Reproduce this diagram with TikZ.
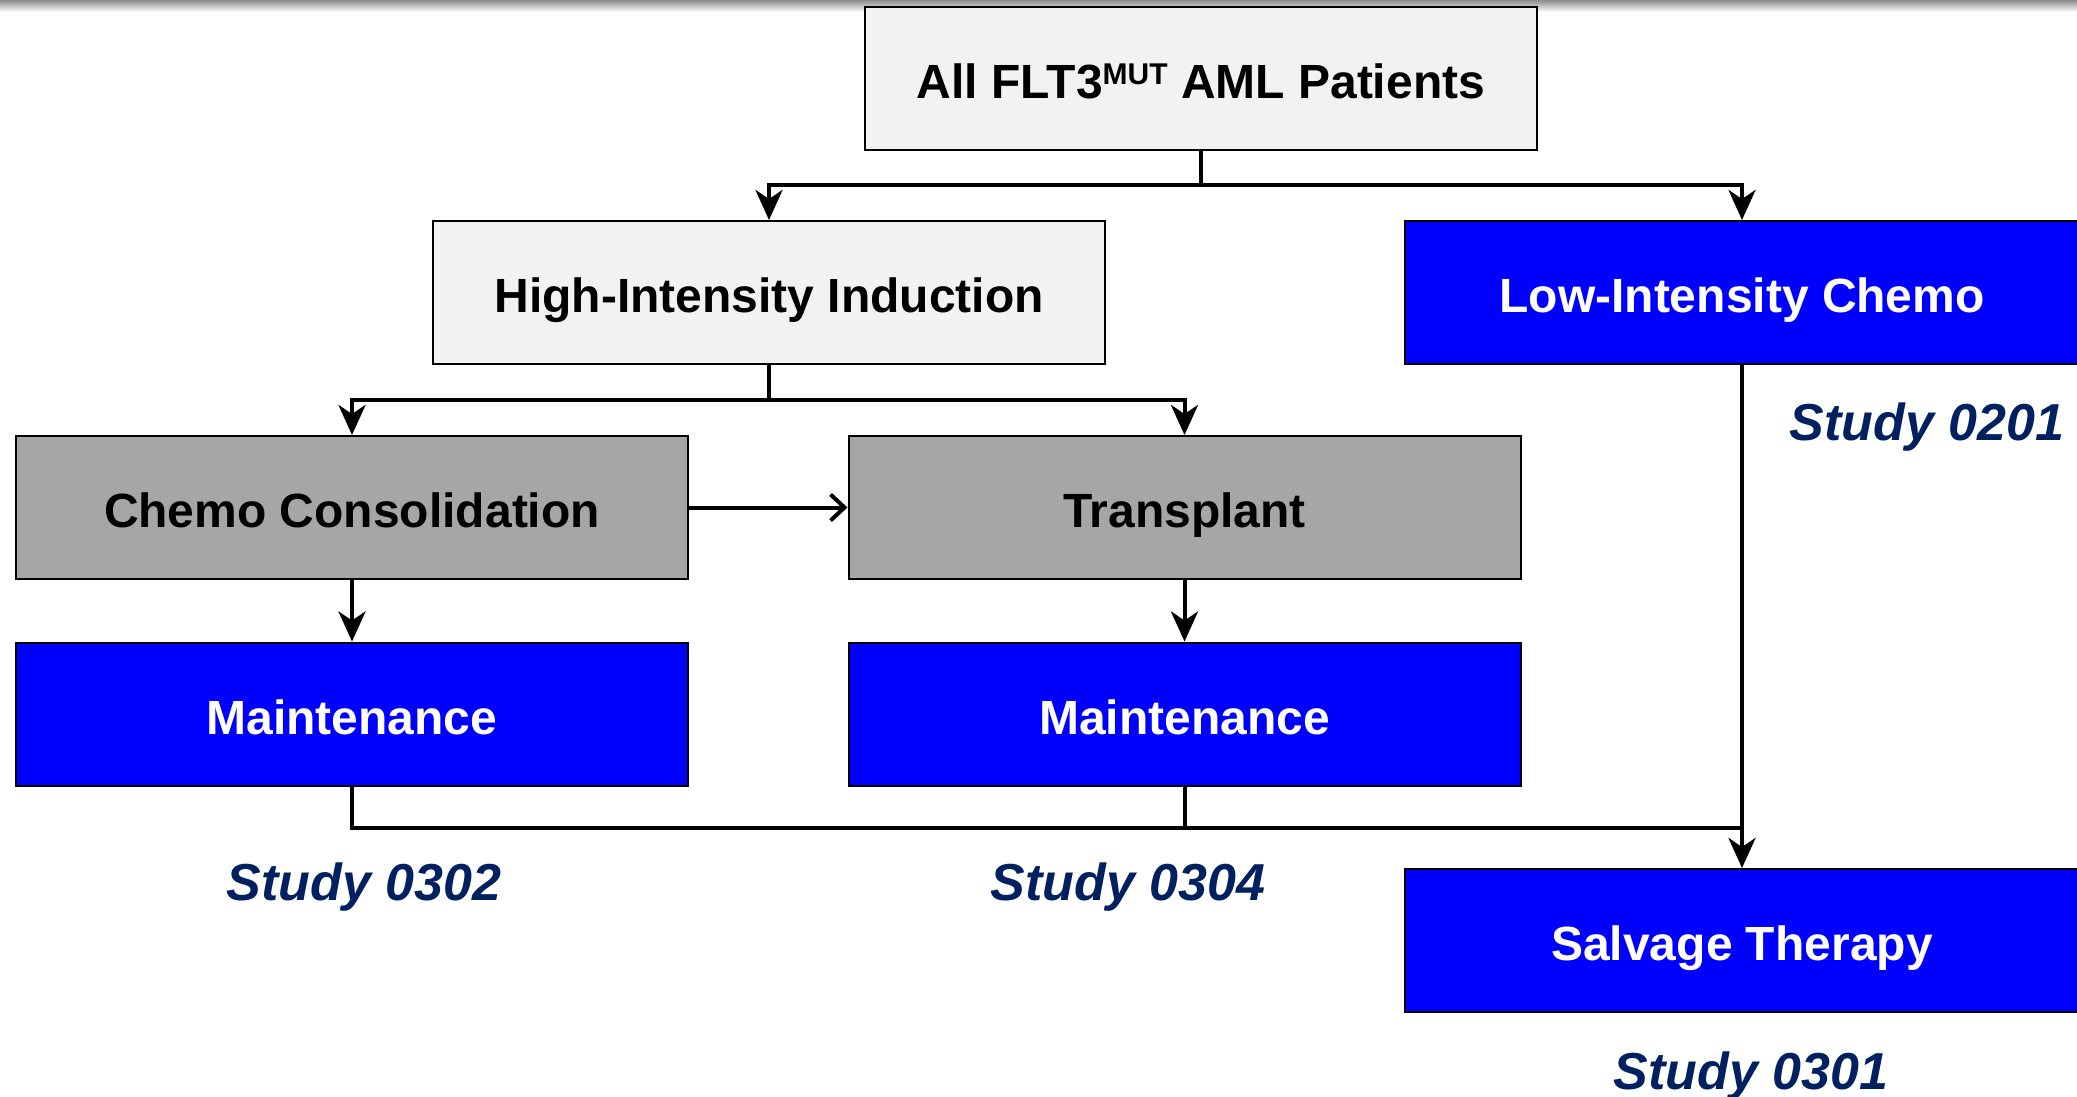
\documentclass[tikz,border=0pt]{standalone}
\usepackage{fontspec}
\setmainfont{Liberation Sans}
\usepackage{xcolor}
\usetikzlibrary{arrows.meta}

\definecolor{lightbox}{RGB}{242,242,242}
\definecolor{midbox}{RGB}{166,166,166}
\definecolor{studyblue}{RGB}{0,32,96}

\begin{document}
\begin{tikzpicture}[x=1pt,y=1pt,yscale=-1,xscale=1,
  box/.style={draw=black,line width=2pt,minimum width=672pt,minimum height=143pt,
    font=\bfseries\fontsize{48}{56}\selectfont,inner sep=0pt,text height=44pt,text depth=4pt},
  whitebox/.style={box,fill=lightbox},
  graybox/.style={box,fill=midbox},
  bluebox/.style={box,fill=blue,text=white},
  link/.style={line width=4pt},
  arr/.style={link,-{Stealth[length=30pt,width=27pt,inset=9pt]}},
  openarr/.style={link,-{Straight Barb[length=14pt,width=26pt]}},
  study/.style={font=\bfseries\itshape\fontsize{52}{60}\selectfont,text=studyblue}]
\useasboundingbox (0,0) rectangle (2077,1097);

%Shape: top shadow
\shade [top color=black!45,bottom color=white] (0,0) rectangle (2077,12);

%Shape: Rectangle [id:top]
\node [whitebox] (allpat) at (1201,78.5) {All FLT3\raisebox{0.55ex}{\fontsize{30}{30}\selectfont MUT} AML Patients};
%Shape: Rectangle [id:high]
\node [whitebox] (highind) at (769,292.5) {High-Intensity Induction};
%Shape: Rectangle [id:low]
\node [bluebox,minimum width=674pt,anchor=west] (lowchemo) at (1404,292.5) {Low-Intensity Chemo};
%Shape: Rectangle [id:consol]
\node [graybox] (consol) at (352,507.5) {Chemo Consolidation};
%Shape: Rectangle [id:transp]
\node [graybox] (transp) at (1184.5,507.5) {Transplant};
%Shape: Rectangle [id:maintA]
\node [bluebox] (maintA) at (352,714) {Maintenance};
%Shape: Rectangle [id:maintB]
\node [bluebox] (maintB) at (1184.5,714) {Maintenance};
%Shape: Rectangle [id:salvage]
\node [bluebox,minimum width=674pt,anchor=west] (salvage) at (1404,940.5) {Salvage Therapy};

%Straight Lines [id:split top]
\coordinate (splitA) at (1201,185);
\draw [link] (allpat.south) -- (splitA);
\draw [arr] (splitA) -| (highind.north);
\draw [arr] (splitA) -| (lowchemo.north);
%Straight Lines [id:split induction]
\coordinate (splitB) at (769,400);
\draw [link] (highind.south) -- (splitB);
\draw [arr] (splitB) -| (consol.north);
\draw [arr] (splitB) -| (transp.north);
%Straight Lines [id:consol to transp]
\draw [openarr] (consol.east) -- (transp.west);
%Straight Lines [id:to maintenance]
\draw [arr] (consol.south) -- (maintA.north);
\draw [arr] (transp.south) -- (maintB.north);
%Straight Lines [id:to salvage]
\draw [link] (maintA.south) -- ++(0,41) coordinate (joinA) -- (joinA -| lowchemo.south);
\draw [link] (maintB.south) -- (maintB.south |- joinA);
\draw [arr] (lowchemo.south) -- (salvage.north);

% Text Node
\node [study] (st0201) at (1927,427) {Study 0201};
% Text Node
\node [study] (st0302) at (364,887) {Study 0302};
% Text Node
\node [study] (st0304) at (1128,887) {Study 0304};
% Text Node
\node [study] (st0301) at (1751,1076) {Study 0301};

\end{tikzpicture}
\end{document}
